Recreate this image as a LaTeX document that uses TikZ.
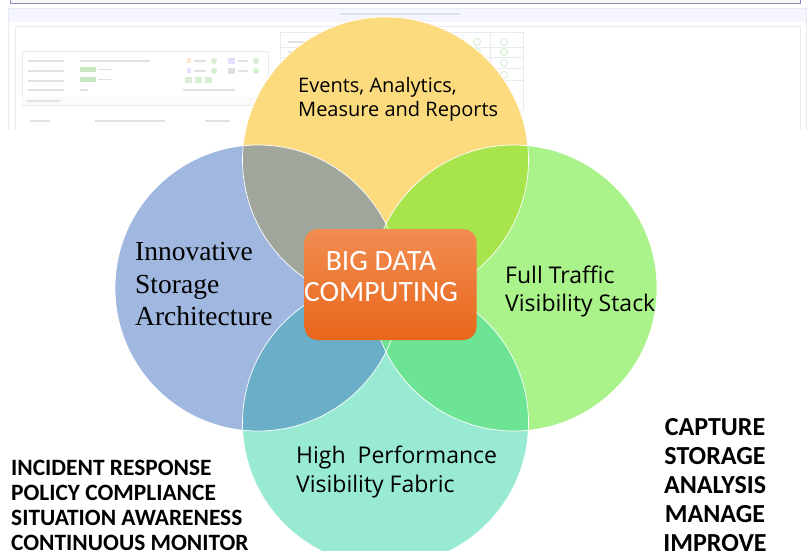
\documentclass[tikz,border=0pt]{standalone}
\usepackage{fontspec}
\setmainfont{Liberation Serif}
\newfontfamily\osans{Open Sans}
\newfontfamily\carl{Carlito}
\definecolor{cyel}{HTML}{FCDA7E}
\definecolor{cblu}{HTML}{A0B7E0}
\definecolor{cgrn}{HTML}{AAF28A}
\definecolor{ctea}{HTML}{98EAD2}
\definecolor{cyb}{HTML}{A0A69C}
\definecolor{cyg}{HTML}{A8E44C}
\definecolor{cbt}{HTML}{6AAEC8}
\definecolor{cgt}{HTML}{6CE494}
\definecolor{cbg}{HTML}{7FAFA8}
\definecolor{otop}{HTML}{F28D52}
\definecolor{obot}{HTML}{E8661A}
\definecolor{sline}{HTML}{E8ECF1}
\definecolor{stxt}{HTML}{DEE1E6}
\definecolor{sgrn}{HTML}{C6E7C0}
\begin{document}
\begin{tikzpicture}[x=1pt,y=-1pt,
  ring/.style={draw=white,line width=0.7pt},
  circtext/.style={anchor=base west,inner sep=0pt,font=\osans\fontsize{20}{24}\selectfont},
  circbig/.style={anchor=base west,inner sep=0pt,font=\osans\fontsize{23}{27}\selectfont},
  sertext/.style={anchor=base west,inner sep=0pt,font=\fontsize{27.5}{32}\selectfont},
  bigtext/.style={anchor=base,inner sep=0pt,text=white,font=\carl\fontsize{29.5}{34}\selectfont},
  lefttext/.style={anchor=base west,inner sep=0pt,font=\carl\bfseries\fontsize{23.4}{26}\selectfont},
  righttext/.style={anchor=base,inner sep=0pt,font=\carl\bfseries\fontsize{26}{29}\selectfont},
  shot/.style={draw=sline,line width=0.6pt},
  sbar/.style={fill=stxt},
  dot/.style={draw=sgrn,line width=0.6pt}]
\useasboundingbox (0,0) rectangle (808,550);
% ---- faded screenshot in the background ----
\fill[fill=gray!6] (10,-2) rectangle (800,3);
\draw[draw=gray!70!blue!70,line width=1pt] (10,-2) -- (10,3) -- (800,3) -- (800,-2);
\fill[white] (8,8) rectangle (806,134);
\fill[fill=blue!4] (8,8) rectangle (806,22);
\draw[shot] (8,130) -- (8,8) -- (806,8) -- (806,130);
\fill[sbar] (340,12.5) rectangle (460,14.5);
\draw[shot] (15,130) -- (15,26) -- (800,26) -- (800,130);
\draw[shot] (22,51) rectangle (268,105);
\fill[fill=gray!4] (22,97) rectangle (268,105);
\fill[sbar] (27,100) rectangle (60,101.5);
\foreach \yy in {60,70,80,89} {\fill[sbar] (28,\yy) rectangle (64,\yy+1.6);}
\fill[sbar] (80,60) rectangle (150,61.6);
\fill[sbar] (80,89) rectangle (88,90.6);
\fill[sgrn] (80,67) rectangle (96,72);
\fill[sgrn] (80,77) rectangle (96,82);
\fill[sbar] (98,68.5) rectangle (112,70);
\fill[sbar] (98,78.5) rectangle (112,80);
\fill[sgrn!70] (185,77) rectangle (192,83);
\fill[sgrn!70] (195,77) rectangle (202,83);
\fill[sgrn!70] (205,77) rectangle (212,83);
\fill[sbar] (183,89) rectangle (235,90.5);
\fill[orange!20] (187,58) rectangle (191,63);
\fill[blue!12] (187,68) rectangle (191,73);
\fill[sbar] (194,60) rectangle (206,61.5);
\fill[sbar] (194,70) rectangle (206,71.5);
\fill[sgrn!70] (214,61) circle (3pt);
\fill[sgrn!70] (214,71) circle (3pt);
\fill[blue!12] (228,58) rectangle (235,64);
\fill[gray!25] (228,68) rectangle (235,74);
\fill[sbar] (238,60) rectangle (248,61.5);
\fill[sbar] (238,70) rectangle (248,71.5);
\fill[sgrn!70] (256,61) circle (3pt);
\fill[sgrn!70] (256,71) circle (3pt);
\draw[shot] (280,32) rectangle (523,110);
\foreach \yy in {47,57,68,80} {\draw[shot] (280,\yy) -- (523,\yy);}
\foreach \xx in {327,354,380,407,435,462,490} {\draw[shot] (\xx,32) -- (\xx,110);}
\foreach \yy in {42,52,63,75} {\fill[sbar] (288,\yy-1) rectangle (320,\yy+0.6);}
\foreach \yy in {42,52,63,75,99} {
  \fill[fill=olive!25] (340,\yy) circle (3.5pt);
  \fill[fill=olive!25] (367,\yy) circle (3.5pt);
  \foreach \xx in {393,422,448,477,504} {\draw[dot] (\xx,\yy) circle (3.5pt);}
}
\fill[sbar] (30,120) rectangle (50,121.5);
\fill[sbar] (95,120) rectangle (165,121.5);
\fill[sbar] (205,120) rectangle (230,121.5);
% ---- circles ----
\coordinate (cY) at (385.5,160);
\coordinate (cB) at (258,288);
\coordinate (cG) at (514,288);
\coordinate (cT) at (385.5,423);
\fill[cyel] (cY) circle (143pt);
\fill[cblu] (cB) circle (143pt);
\fill[cgrn] (cG) circle (143pt);
\fill[ctea] (cT) circle (143pt);
\begin{scope}\clip (cB) circle (143pt); \fill[cbg] (cG) circle (143pt);\end{scope}
\begin{scope}\clip (cY) circle (143pt); \fill[cyb] (cB) circle (143pt);\end{scope}
\begin{scope}\clip (cY) circle (143pt); \fill[cyg] (cG) circle (143pt);\end{scope}
\begin{scope}\clip (cT) circle (143pt); \fill[cbt] (cB) circle (143pt);\end{scope}
\begin{scope}\clip (cT) circle (143pt); \fill[cgt] (cG) circle (143pt);\end{scope}
\draw[ring] (cY) circle (143pt);
\draw[ring] (cB) circle (143pt);
\draw[ring] (cG) circle (143pt);
\draw[ring] (cT) circle (143pt);
% ---- circle texts ----
\node[circtext] (ev1) at (298,92) {Events, Analytics,};
\node[circtext] (ev2) at (298,116) {Measure and Reports};
\node[sertext] (st1) at (135,260) {Innovative};
\node[sertext] (st2) at (135,293) {Storage};
\node[sertext] (st3) at (135,325) {Architecture};
\node[circbig] (ft1) at (505,283) {Full Traffic};
\node[circbig] (ft2) at (505,311) {Visibility Stack};
\node[circbig] (hp1) at (296,463) {High\ \ Performance};
\node[circbig] (hp2) at (296,492) {Visibility Fabric};
% ---- centre box ----
\node[rounded corners=13pt,top color=otop,bottom color=obot,minimum width=172pt,minimum height=111pt,inner sep=0pt] (box) at (390.5,284.5) {};
\node[bigtext] (bd1) at (381,270) {BIG DATA};
\node[bigtext] (bd2) at (381,301.5) {COMPUTING};
% ---- side lists ----
\node[lefttext] (l1) at (11,475) {INCIDENT RESPONSE};
\node[lefttext] (l2) at (11,500) {POLICY COMPLIANCE};
\node[lefttext] (l3) at (11,525) {SITUATION AWARENESS};
\node[lefttext] (l4) at (11,550) {CONTINUOUS MONITOR};
\node[righttext] (r1) at (715,435) {CAPTURE};
\node[righttext] (r2) at (715,464) {STORAGE};
\node[righttext] (r3) at (715,493) {ANALYSIS};
\node[righttext] (r4) at (715,522) {MANAGE};
\node[righttext] (r5) at (715,551) {IMPROVE};
\end{tikzpicture}
\end{document}
